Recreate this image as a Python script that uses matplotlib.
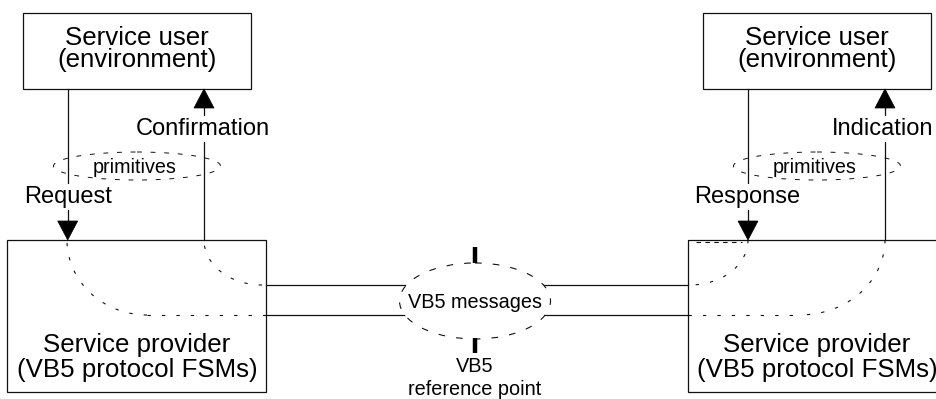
import matplotlib
matplotlib.use("Agg")
import matplotlib.pyplot as plt
from matplotlib.patches import Rectangle, Ellipse, Arc, Polygon

plt.rcParams['font.family'] = ['Liberation Sans', 'DejaVu Sans']

# ---- layout (pixel coordinates, y downwards) ----
W, H = 936, 399
user_boxes = [(23, 13, 251, 89), (703, 13, 931, 89)]
provider_boxes = [(7, 240, 266, 392), (688, 240, 960, 392)]
box_centers_x = [137, 817]
user_lines = ["Service user", "(environment)"]
provider_lines = ["Service provider", "(VB5 protocol FSMs)"]
down_x = [67.7, 748]      # Request / Response
up_x = [204, 885]         # Confirmation / Indication
down_labels = ["Request", "Response"]
up_labels = ["Confirmation", "Indication"]
down_label_x = [68, 747]
up_label_x = [203, 883]
msg_y = [285, 315]
vb5_center = (475, 301)
vb5_size = (151, 76)
LW = 0.9
col = '#111111'

fig = plt.figure(figsize=(W / 100, H / 100), dpi=100)
ax = fig.add_axes([0, 0, 1, 1])
ax.set_xlim(0, W)
ax.set_ylim(H, 0)
ax.axis('off')

def rect(x0, y0, x1, y1):
    ax.add_patch(Rectangle((x0, y0), x1 - x0, y1 - y0, fill=False,
                           edgecolor=col, lw=LW, zorder=3))

for b in user_boxes:
    rect(*b)
for b in provider_boxes:
    rect(*b)

for cx in box_centers_x:
    ax.text(cx, 45, user_lines[0], ha='center', va='baseline', fontsize=18.6, color='black', zorder=5)
    ax.text(cx, 67, user_lines[1], ha='center', va='baseline', fontsize=18.6, color='black', zorder=5)
    ax.text(cx, 352, provider_lines[0], ha='center', va='baseline', fontsize=18.6, color='black', zorder=5)
    ax.text(cx, 377, provider_lines[1], ha='center', va='baseline', fontsize=18.6, color='black', zorder=5)

def arrowhead(x, tip_y, base_y):
    ax.add_patch(Polygon([(x, tip_y), (x - 10, base_y), (x + 10, base_y)],
                         closed=True, facecolor='black', edgecolor='black', lw=0.5, zorder=6))

bbox = dict(facecolor='white', edgecolor='none', pad=1.5)
for i in range(2):
    # down line (request / response)
    ax.plot([down_x[i], down_x[i]], [89, 222], color=col, lw=LW, zorder=2)
    arrowhead(down_x[i], 240, 221)
    ax.text(down_label_x[i], 203, down_labels[i], ha='center', va='baseline',
            fontsize=17, bbox=bbox, zorder=4)
    # up line (confirmation / indication)
    ax.plot([up_x[i], up_x[i]], [240, 107], color=col, lw=LW, zorder=2)
    arrowhead(up_x[i], 89, 108)
    ax.text(up_label_x[i], 135, up_labels[i], ha='center', va='baseline',
            fontsize=17, bbox=bbox, zorder=4)
    # primitives ellipse
    cx = box_centers_x[i]
    ax.add_patch(Ellipse((cx, 166), 167, 28, fill=False, edgecolor=col, lw=0.7,
                         linestyle=(0, (5, 9)), zorder=3))
    ax.text(cx - 2, 173, "primitives", ha='center', va='baseline', fontsize=14.2, zorder=5)

# horizontal message lines
for y in msg_y:
    ax.plot([266, 688], [y, y], color=col, lw=LW, zorder=2)

# VB5 ellipse (covers lines)
ax.add_patch(Ellipse(vb5_center, vb5_size[0], vb5_size[1], facecolor='white',
                     edgecolor=col, lw=0.8, linestyle=(0, (6, 10)), zorder=4))
ax.text(475, 308, "VB5 messages", ha='center', va='baseline', fontsize=14.3, zorder=5)
ax.plot([475, 475], [247, 263], color='black', lw=3.2, solid_capstyle='butt', zorder=6)
ax.plot([475, 475], [338, 353], color='black', lw=3.2, solid_capstyle='butt', zorder=6)
ax.text(475, 372, "VB5", ha='center', va='baseline', fontsize=14.3)
ax.text(475, 395, "reference point", ha='center', va='baseline', fontsize=14.3)

# dotted arcs inside provider boxes
dash = (0, (3, 10))
arcs = [((147, 240), 80, 75, 90, 180), ((262, 240), 58, 45, 90, 180),
        ((690, 240), 58, 45, 0, 90), ((800, 240), 85, 75, 0, 90)]
for (c, rx, ry, t1, t2) in arcs:
    ax.add_patch(Arc(c, 2 * rx, 2 * ry, theta1=t1, theta2=t2, edgecolor=col,
                     lw=0.8, linestyle=dash, zorder=2))
ax.plot([147, 266], [315, 315], color=col, lw=0.8, linestyle=dash, zorder=2)
ax.plot([688, 800], [315, 315], color=col, lw=0.8, linestyle=dash, zorder=2)
ax.plot([696, 742], [241.5, 241.5], color=col, lw=0.8, linestyle=(0, (4, 4)), zorder=2)

fig.savefig("out.png", dpi=100)
